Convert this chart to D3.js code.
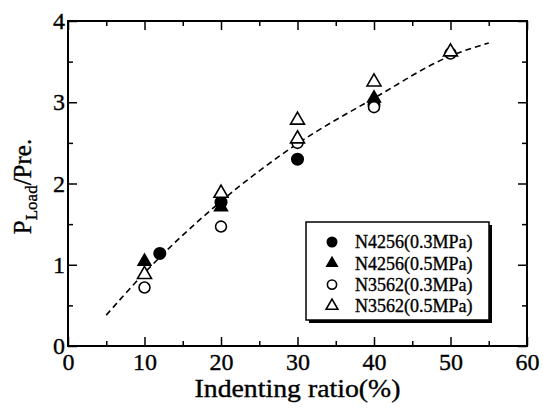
<!DOCTYPE html>
<html><head><meta charset="utf-8">
<script src="https://cdn.jsdelivr.net/npm/d3@7"></script>
<style>
body{margin:0;background:#fff}
svg{display:block}
svg text{font-family:"Liberation Serif","Tinos","Times New Roman","Nimbus Roman","DejaVu Serif",serif !important;fill:#000;stroke:#000;stroke-width:0.35px}
</style>
</head><body>
<svg id="c" width="543" height="408"></svg>
<script>
// ---- data ----
const xTicks = [0, 10, 20, 30, 40, 50, 60];
const xMinor = [5, 15, 25, 35, 45, 55];
const yTicks = [0, 1, 2, 3, 4];
const yMinor = [0.5, 1.5, 2.5, 3.5];
const seriesNames = ["N4256(0.3MPa)", "N4256(0.5MPa)", "N3562(0.3MPa)", "N3562(0.5MPa)"];
const n4256_03_x = [12, 20, 30, 40];
const n4256_03_y = [1.14, 1.77, 2.30, 2.97];
const n4256_05_x = [10, 20, 40];
const n4256_05_y = [1.04, 1.71, 3.05];
const n3562_03_x = [10, 20, 30, 40, 50];
const n3562_03_y = [0.72, 1.47, 2.50, 2.94, 3.60];
const n3562_05_x = [10, 20, 30, 30, 40, 50];
const n3562_05_y = [0.88, 1.88, 2.55, 2.78, 3.25, 3.62];
const fitX = [5, 10, 20, 30, 40, 50, 55];
const fitY = [0.38, 0.90, 1.78, 2.49, 3.05, 3.57, 3.73];

// ---- layout ----
const FONT = '"Liberation Serif","Tinos","Times New Roman","Nimbus Roman","DejaVu Serif",serif';
const L = 68, T = 21, W = 459, H = 325;
const svg = d3.select("#c");
const x = d3.scaleLinear().domain([0, 60]).range([L, L + W]);
const y = d3.scaleLinear().domain([0, 4]).range([T + H, T]);

const series = [
  {name: seriesNames[0], xs: n4256_03_x, ys: n4256_03_y, shape: "circle", filled: true},
  {name: seriesNames[1], xs: n4256_05_x, ys: n4256_05_y, shape: "triangle", filled: true},
  {name: seriesNames[2], xs: n3562_03_x, ys: n3562_03_y, shape: "circle", filled: false},
  {name: seriesNames[3], xs: n3562_05_x, ys: n3562_05_y, shape: "triangle", filled: false}
];

function styleAxis(g) {
  g.attr("font-family", FONT);
  g.select(".domain").remove();
  g.selectAll(".tick line").attr("stroke", "#000").attr("stroke-width", 1.5);
}
svg.append("g").attr("transform", `translate(0,${T + H})`)
  .call(d3.axisBottom(x).tickValues(xTicks).tickSize(-9).tickPadding(7).tickFormat(d3.format("d")))
  .call(styleAxis)
  .call(g => g.selectAll("text").attr("font-size", 24).attr("font-family", FONT));
svg.append("g").attr("transform", `translate(0,${T + H})`)
  .call(d3.axisBottom(x).tickValues(xMinor).tickSize(-5).tickFormat(""))
  .call(styleAxis);
svg.append("g").attr("transform", `translate(0,${T})`)
  .call(d3.axisTop(x).tickValues(xTicks).tickSize(-9).tickFormat(""))
  .call(styleAxis);
svg.append("g").attr("transform", `translate(0,${T})`)
  .call(d3.axisTop(x).tickValues(xMinor).tickSize(-5).tickFormat(""))
  .call(styleAxis);
svg.append("g").attr("transform", `translate(${L},0)`)
  .call(d3.axisLeft(y).tickValues(yTicks).tickSize(-9).tickPadding(3).tickFormat(d3.format("d")))
  .call(styleAxis)
  .call(g => g.selectAll("text").attr("font-size", 24).attr("font-family", FONT));
svg.append("g").attr("transform", `translate(${L},0)`)
  .call(d3.axisLeft(y).tickValues(yMinor).tickSize(-5).tickFormat(""))
  .call(styleAxis);
svg.append("g").attr("transform", `translate(${L + W},0)`)
  .call(d3.axisRight(y).tickValues(yTicks).tickSize(-9).tickFormat(""))
  .call(styleAxis);
svg.append("g").attr("transform", `translate(${L + W},0)`)
  .call(d3.axisRight(y).tickValues(yMinor).tickSize(-5).tickFormat(""))
  .call(styleAxis);

// frame
svg.append("rect").attr("x", L).attr("y", T).attr("width", W).attr("height", H)
  .attr("fill", "none").attr("stroke", "#000").attr("stroke-width", 2);

// fitted dashed curve
svg.append("path")
  .datum(fitX.map((v, i) => [v, fitY[i]]))
  .attr("d", d3.line().x(d => x(d[0])).y(d => y(d[1])).curve(d3.curveMonotoneX))
  .attr("fill", "none").attr("stroke", "#000").attr("stroke-width", 1.6)
  .attr("stroke-dasharray", "6,4");

// markers
function marker(g, shape, filled, cx, cy, s) {
  if (shape === "circle") {
    g.append("circle").attr("cx", cx).attr("cy", cy)
      .attr("r", filled ? s * 0.5 : s * 0.42)
      .attr("fill", filled ? "#000" : "#fff")
      .attr("stroke", "#000").attr("stroke-width", filled ? 0 : 1.6);
  } else {
    const sym = d3.symbol().type(d3.symbolTriangle).size(filled ? s * s * 0.62 : s * s * 0.5);
    g.append("path").attr("d", sym()).attr("transform", `translate(${cx},${cy})`)
      .attr("fill", filled ? "#000" : "#fff")
      .attr("stroke", "#000").attr("stroke-width", filled ? 0 : 1.6);
  }
}
const mg = svg.append("g");
series.forEach(s => {
  s.xs.forEach((v, i) => marker(mg, s.shape, s.filled, x(v), y(s.ys[i]), 13));
});

// legend
const lg = svg.append("g").attr("font-family", FONT);
const lx = 306, ly = 222, lw = 183, lh = 98;
lg.append("rect").attr("x", lx + 3).attr("y", ly + 3).attr("width", lw).attr("height", lh).attr("fill", "#000");
lg.append("rect").attr("x", lx).attr("y", ly).attr("width", lw).attr("height", lh)
  .attr("fill", "#fff").attr("stroke", "#000").attr("stroke-width", 1.5);
series.forEach((s, i) => {
  const cy = ly + 20 + i * 21.3;
  marker(lg, s.shape, s.filled, lx + 26, cy, 11);
  lg.append("text").attr("x", lx + 49).attr("y", cy).attr("dy", "0.35em")
    .attr("font-family", FONT).attr("font-size", 18).text(s.name);
});

// axis titles
svg.append("text").attr("x", x(30)).attr("y", 397).attr("text-anchor", "middle")
  .attr("font-family", FONT).attr("font-size", 25)
  .attr("textLength", 206).attr("lengthAdjust", "spacingAndGlyphs")
  .text("Indenting ratio(%)");
const yt = svg.append("text").attr("transform", `translate(31,${T + H / 2 + 3}) rotate(-90)`)
  .attr("text-anchor", "middle").attr("font-family", FONT).attr("font-size", 25);
yt.append("tspan").text("P");
yt.append("tspan").attr("font-size", 17).attr("dy", 6).text("Load");
yt.append("tspan").attr("dy", -6).text("/Pre.");
</script>
</body></html>
